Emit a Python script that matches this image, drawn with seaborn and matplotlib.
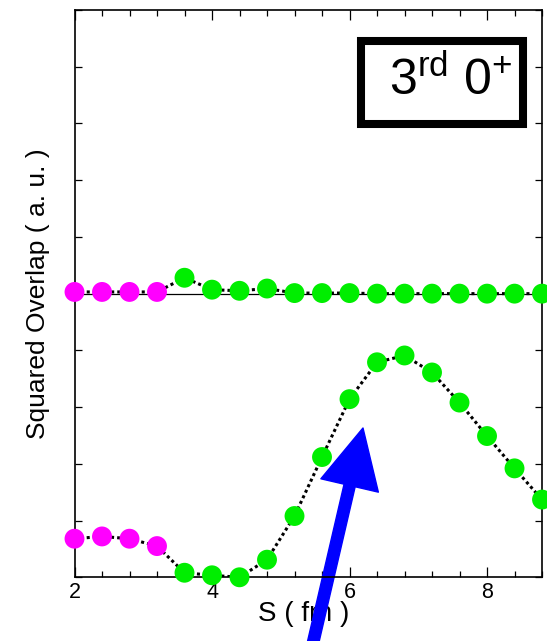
import matplotlib
matplotlib.use("Agg")
from matplotlib import pyplot as plt
from matplotlib.patches import Rectangle
from matplotlib.ticker import MultipleLocator
import seaborn as sns
import pandas as pd

# separation distance S (fm)
s_fm = [2.0, 2.4, 2.8, 3.2, 3.6, 4.0, 4.4, 4.8, 5.2,
        5.6, 6.0, 6.4, 6.8, 7.2, 7.6, 8.0, 8.4, 8.8]
# upper curve (shifted up by baseline)
upper_overlap = [5.03, 5.03, 5.03, 5.03, 5.28, 5.07, 5.05, 5.09, 5.01,
                 5.01, 5.01, 5.0, 5.0, 5.0, 5.0, 5.0, 5.0, 5.0]
# lower curve
lower_overlap = [0.68, 0.72, 0.68, 0.55, 0.08, 0.035, 0.0, 0.31, 1.08,
                 2.12, 3.14, 3.79, 3.91, 3.61, 3.08, 2.49, 1.92, 1.37]
region = ["inner"] * 4 + ["outer"] * 14
upper_baseline = 5.0
state_label = r"3$^{\rm rd}$ 0$^{+}$"

df = pd.DataFrame({"S": s_fm, "upper": upper_overlap,
                   "lower": lower_overlap, "region": region})
colors = {"inner": "#ff00ff", "outer": "#00ee00"}

sns.set_style("ticks")
plt.rcParams["font.family"] = ["Liberation Sans", "DejaVu Sans"]
plt.rcParams.update({"text.color": "black", "axes.labelcolor": "black",
                     "xtick.color": "black", "ytick.color": "black",
                     "axes.edgecolor": "black",
                     "mathtext.fontset": "custom",
                     "mathtext.rm": "Liberation Sans"})

fig = plt.figure(figsize=(5.47, 6.41), dpi=100)
ax = fig.add_axes([0.1362, 0.0994, 0.8547, 0.885])

ax.axhline(upper_baseline, color="black", lw=0.9, zorder=1)
for col in ["upper", "lower"]:
    sns.lineplot(data=df, x="S", y=col, ax=ax, color="black",
                 lw=2.2, linestyle=(0, (1, 1)), zorder=2)
    sns.scatterplot(data=df, x="S", y=col, hue="region", palette=colors,
                    s=205, linewidth=0, ax=ax, legend=False,
                    clip_on=False, zorder=5)

ax.set_xlim(2, 8.8)
ax.set_ylim(0, 10)
ax.xaxis.set_major_locator(MultipleLocator(2))
ax.xaxis.set_minor_locator(MultipleLocator(0.4))
ax.yaxis.set_major_locator(MultipleLocator(1))
ax.set_yticklabels([])
ax.tick_params(axis="x", which="major", direction="in", length=7.2, width=0.9,
               top=True, labelsize=15.5, pad=3.5)
ax.tick_params(axis="x", which="minor", direction="in", length=4.3, width=0.9,
               top=True)
ax.tick_params(axis="y", which="major", direction="in", length=4.7, width=0.9,
               right=True)
for sp in ax.spines.values():
    sp.set_linewidth(1.2)
    sp.set_zorder(3)

ax.set_xlabel("S ( fm )", fontsize=20)
ax.set_ylabel("Squared Overlap ( a. u. )", fontsize=19)
ax.xaxis.set_label_coords(0.49, -0.042)
ax.xaxis.label.set_va("top")
ax.yaxis.set_label_coords(-0.052, 0.5)

ax.add_patch(Rectangle((0.6128, 0.799), 0.347, 0.1464, transform=ax.transAxes,
                       facecolor="white", edgecolor="black", lw=5.8,
                       joinstyle="miter", zorder=6))
ax.text(0.672, 0.85, state_label, transform=ax.transAxes, fontsize=36,
        ha="left", va="baseline", zorder=7)

ax.annotate("", xy=(6.196, 2.632), xytext=(5.411, -1.458),
            xycoords="data", annotation_clip=False,
            arrowprops=dict(arrowstyle="simple,head_length=42.5,head_width=42.5,tail_width=8.2",
                            mutation_scale=1, color="#0000ff", shrinkA=0, shrinkB=0,
                            clip_on=False, zorder=10))

fig.savefig("out.png", dpi=100)
